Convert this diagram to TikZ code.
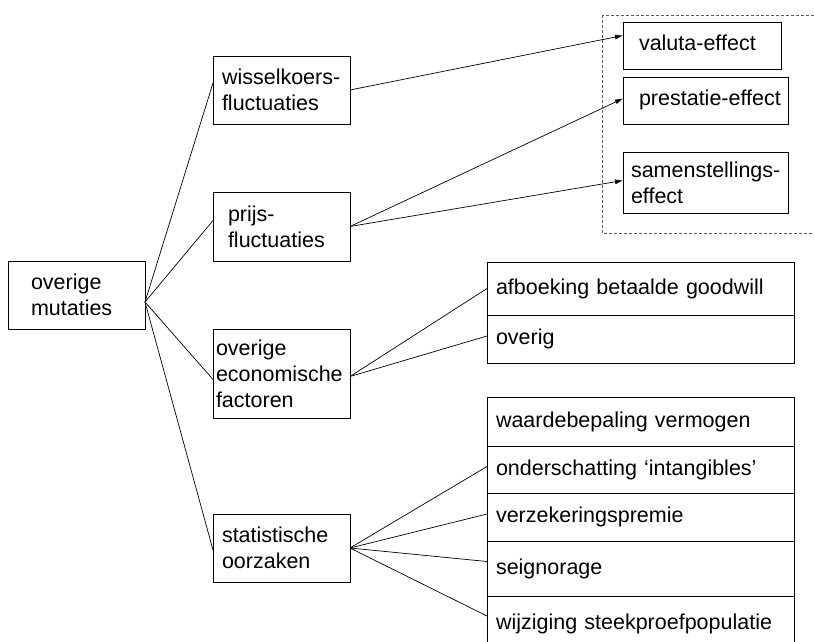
\documentclass[tikz,border=0pt]{standalone}
\usepackage{fontspec}
\setmainfont{Liberation Sans}
\usetikzlibrary{arrows.meta,positioning}
\newcommand{\boxfont}{\fontsize{21.5}{26}\selectfont}
\tikzstyle{box} = [rectangle, draw, anchor=north west, align=left,
    inner ysep=0pt, outer sep=0pt, line width=0.9pt, font=\boxfont]
\tikzstyle{row} = [box, text height=15.5pt, text depth=4.5pt]
\tikzstyle{group} = [draw=black!65, dash pattern=on 3pt off 2pt, line width=0.8pt]

\begin{document}
\begin{tikzpicture}[x=1pt,y=-1pt,>={Latex[length=8pt,width=5pt]},
                    line width=0.7pt]
  \path[use as bounding box, clip] (0,0) rectangle (814,642);

  % dashed frame round the three effects
  \draw[group] (602,15) rectangle (840,233);

  \node[box, inner xsep=23pt, text width=91pt,  minimum height=68pt] (mut) at (8,261)   {overige\\mutaties};
  \node[box, inner xsep=9pt,  text width=119pt, minimum height=68pt] (wis) at (213,56)  {wisselkoers-\\fluctuaties};
  \node[box, inner xsep=15pt, text width=107pt, minimum height=69pt] (pr)  at (213,192) {prijs-\\fluctuaties};
  \node[box, inner xsep=3pt,  text width=131pt, minimum height=89pt] (eco) at (213,329) {overige\\economische\\factoren};
  \node[box, inner xsep=9pt,  text width=119pt, minimum height=68pt] (sta) at (213,514) {statistische\\oorzaken};

  \node[row, inner xsep=16pt, text width=126pt, minimum height=47pt] (val) at (623,22)  {\mbox{valuta-effect}};
  \node[row, inner xsep=16pt, text width=133pt, minimum height=47pt] (pre) at (623,77)  {\mbox{prestatie-effect}};
  \node[box, inner xsep=8pt,  text width=149pt, minimum height=61pt] (sam) at (623,152) {\mbox{samenstellings-}\\effect};

  \node[row, inner xsep=9pt, text width=289pt, minimum height=53pt] (afb) at (487,262) {afboeking betaalde goodwill};
  \node[row, inner xsep=9pt, text width=289pt, minimum height=48pt] (ovr) [below=0pt of afb] {overig};

  \node[row, inner xsep=9pt, text width=289pt, minimum height=49pt] (waa) at (487,397) {waardebepaling vermogen};
  \node[row, inner xsep=9pt, text width=289pt, minimum height=47pt] (ond) [below=0pt of waa] {onderschatting ‘intangibles’};
  \node[row, inner xsep=9pt, text width=289pt, minimum height=48pt] (ver) [below=0pt of ond] {verzekeringspremie};
  \node[row, inner xsep=9pt, text width=289pt, minimum height=55pt] (sei) [below=0pt of ver] {seignorage};
  \node[row, inner xsep=9pt, text width=289pt, minimum height=56pt] (wij) [below=0pt of sei] {wijziging steekproefpopulatie};

  \path ([yshift=-7pt]mut.east) edge ([yshift=7pt]wis.west)
                                edge ([yshift=6pt]pr.west)
                                edge ([yshift=-6pt]eco.west)
                                edge ([yshift=-2pt]sta.west);
  \path (wis.east) edge[->] ([yshift=10pt]val.west);
  \path (pr.east)  edge[->] ([yshift=2pt]pre.west)
                   edge[->] ([yshift=2pt]sam.west);
  \path ([yshift=-3pt]eco.east) edge (afb.west)
                                edge ([yshift=3pt]ovr.west);
  \path (sta.east) edge ([yshift=3pt]ond.west)
                   edge ([yshift=3pt]ver.west)
                   edge ([yshift=7pt]sei.west)
                   edge ([yshift=8pt]wij.west);
\end{tikzpicture}
\end{document}
